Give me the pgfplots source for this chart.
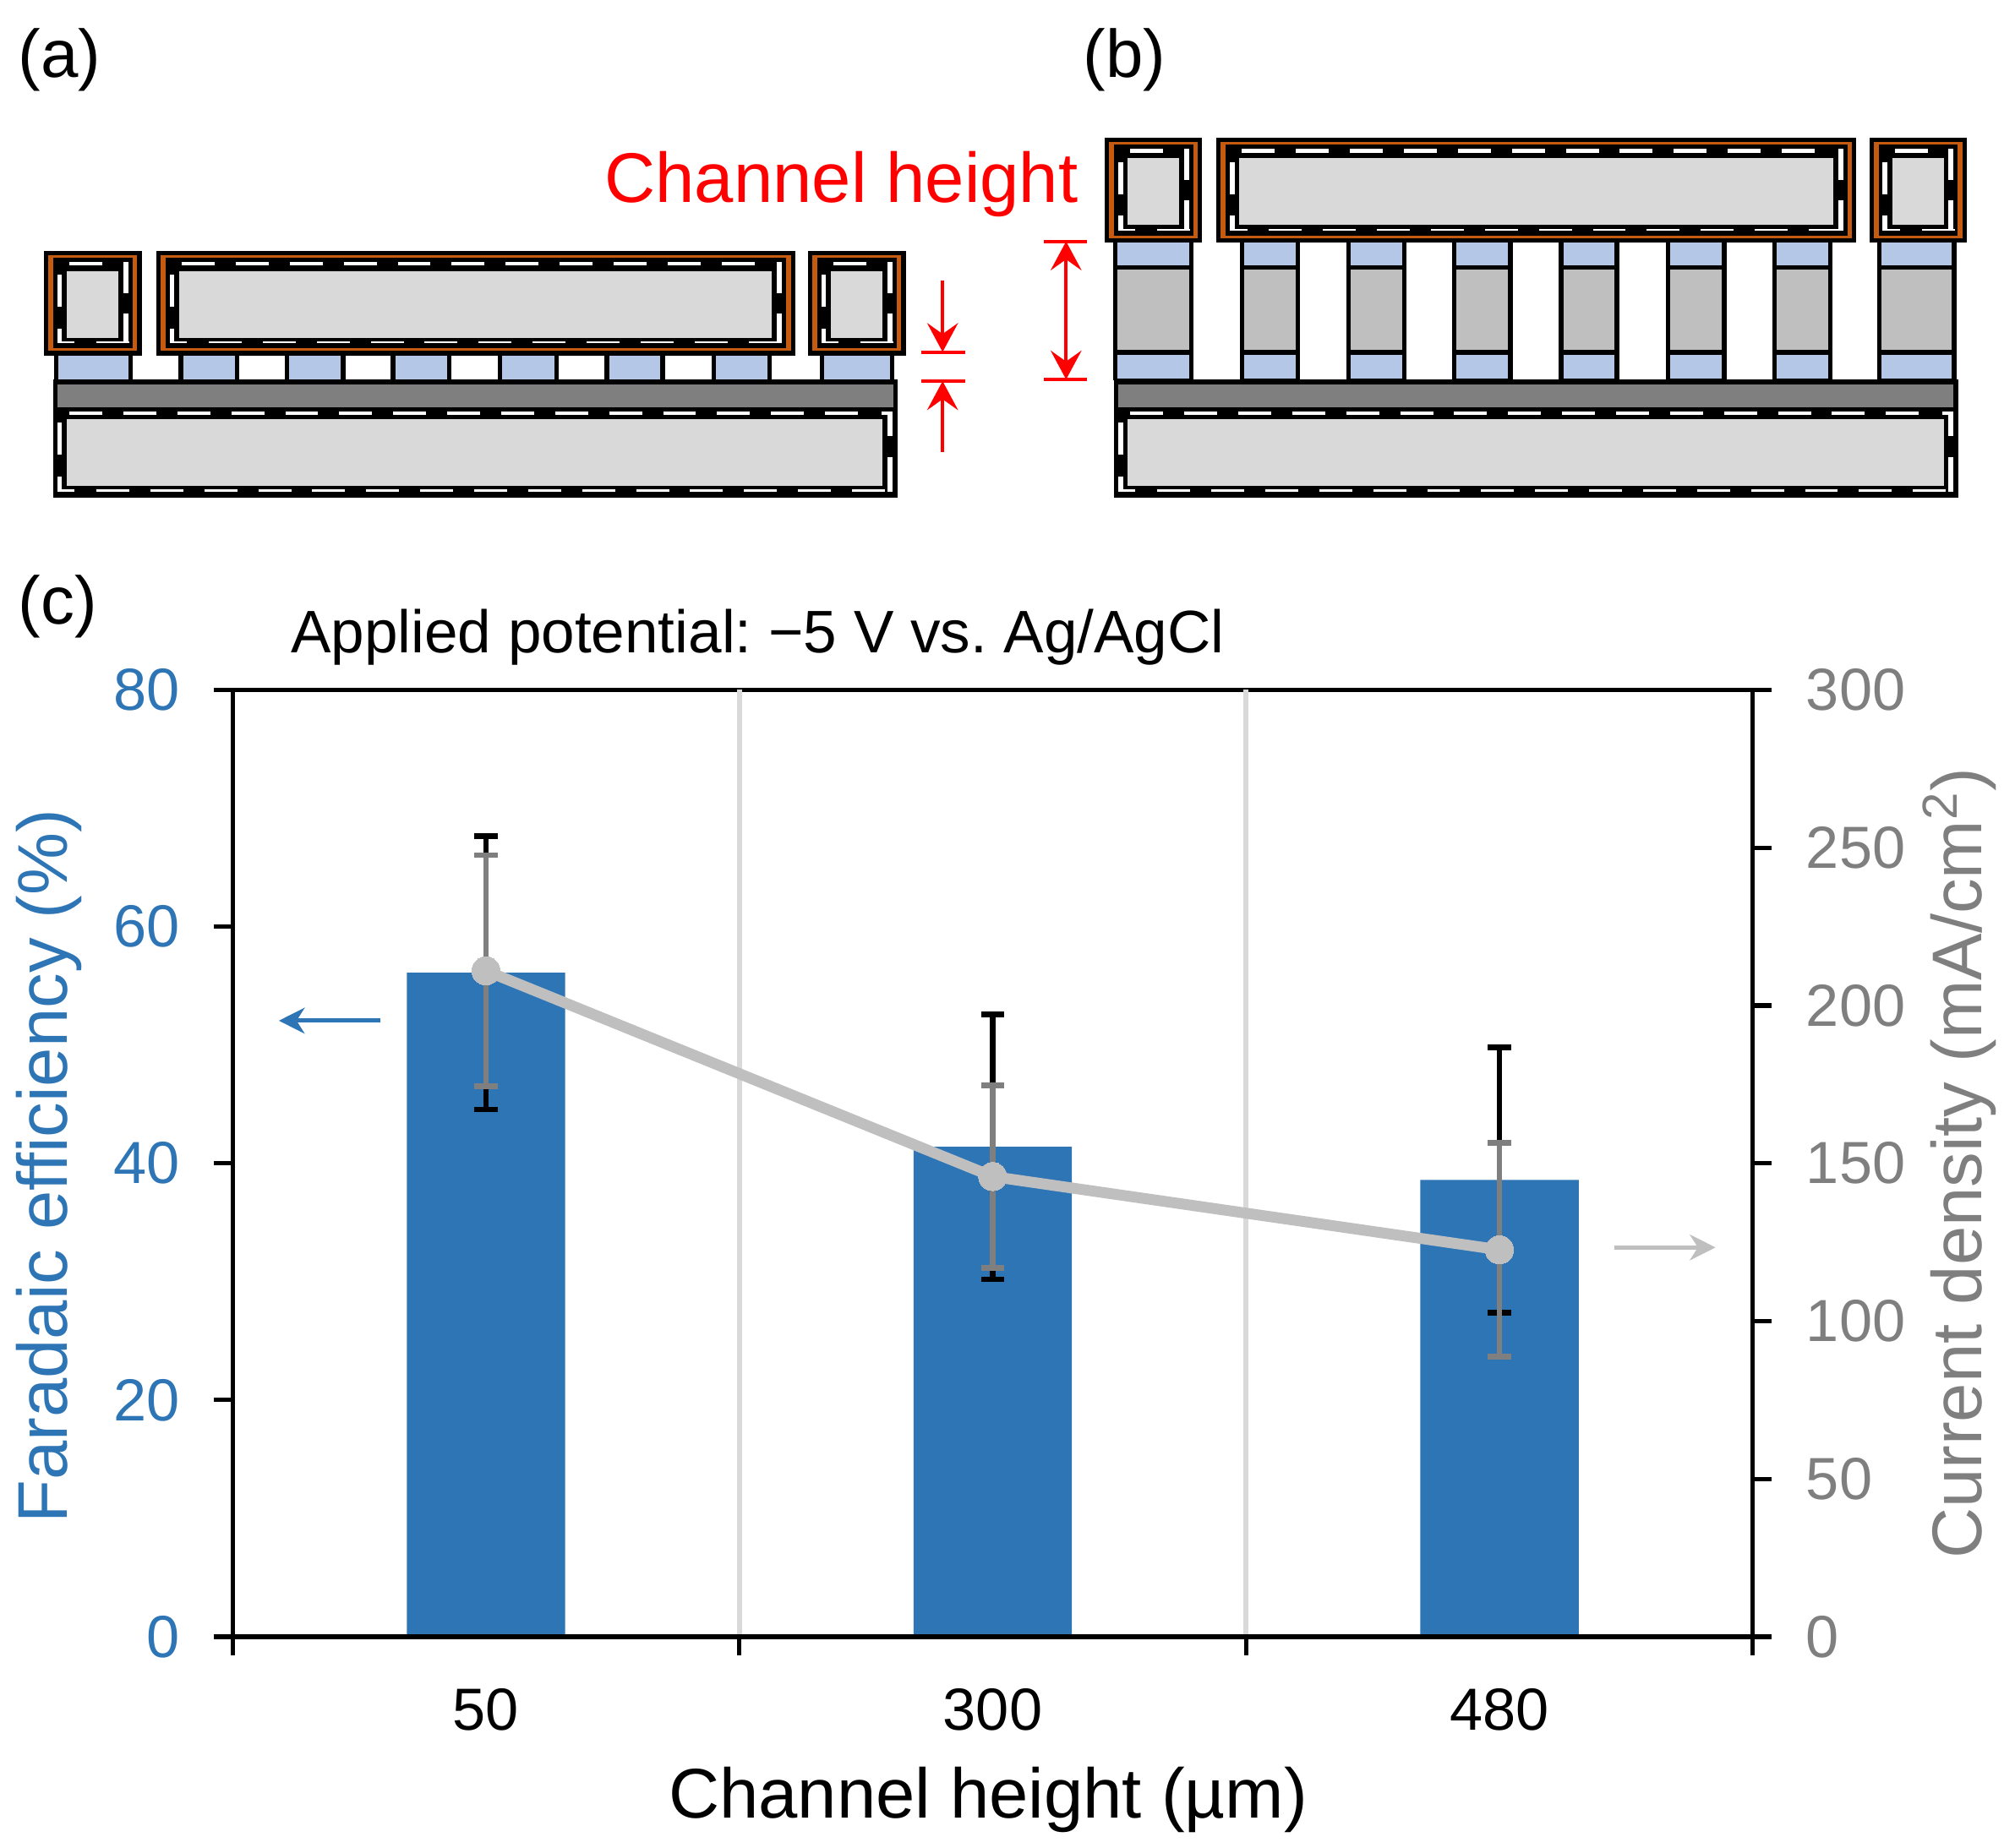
\documentclass[border=0pt]{standalone}
\usepackage{fontspec}
\setmainfont{Liberation Sans}
\usepackage{pgfplots}
\usepackage{pgfplotstable}
\pgfplotsset{compat=1.18}
\usetikzlibrary{arrows.meta}
\frenchspacing

\definecolor{barblue}{HTML}{2E75B6}
\definecolor{linegray}{HTML}{BFBFBF}
\definecolor{errgray}{HTML}{7F7F7F}
\definecolor{gridgray}{HTML}{D9D9D9}
\definecolor{copper}{HTML}{C55A11}
\definecolor{cellblue}{HTML}{B4C7E7}

\newcommand{\labelfont}{\fontsize{21.9}{26}\selectfont}
\newcommand{\panelfont}{\fontsize{21}{26}\selectfont}
\newcommand{\tickfont}{\fontsize{18.5}{22}\selectfont}

% white dashes and grey core of one plate: gl gt gr gb, top offset, right column ends
\newcommand{\core}[7]{%
  \pgfmathtruncatemacro\nt{floor((#3-#1-27.6)/42)}
  \foreach \k in {0,...,\nt}
    \fill[white] ({#1+2+42*\k},{#2-#5}) rectangle ++(25.6,2.8);
  \pgfmathtruncatemacro\nb{floor((#3-#1-23)/42)}
  \foreach \k in {0,...,\nb}
    \fill[white] ({#1+23+42*\k},{#4+3}) rectangle ++(25.6,1.5);
  \fill[white] ({#1-7.4},{#4+3}) rectangle ({#1+6},{#4+4.5});
  \fill[white] ({#1-7.4},{#2+3}) rectangle ({#1-3.8},{#2+28});
  \fill[white] ({#1-7.4},{#4-7}) rectangle ({#1-3.8},{#4+4.5});
  \fill[white] ({#3+3.8},{#2-#5}) rectangle ({#3+7.8},{#2+#6});
  \fill[white] ({#3+3.8},{#4-#7}) rectangle ({#3+7.8},{#4+4.5});
  \fill[gridgray] (#1,#2) rectangle (#3,#4);
}
% top plate with copper frame
\newcommand{\plate}[4]{%
  \fill[black] ({#1-17.8},{#2-15.6}) rectangle ({#3+18},{#4+14});
  \fill[copper] ({#1-14.5},{#2-12.6}) rectangle ({#3+14.6},{#4+10.4});
  \fill[black] ({#1-10.6},{#2-10.6}) rectangle ({#3+11},{#4+8.2});
  \core{#1}{#2}{#3}{#4}{7}{17}{19}
}
% bottom plate with dark layer; ol or outer x, gl gr core x
\newcommand{\base}[4]{%
  \fill[black] (#1,295.2) rectangle (#2,387.4);
  \fill[errgray] ({#1+3.3},299) rectangle ({#2-3.6},317.2);
  \core{#3}{326}{#4}{378}{5.7}{13.5}{22}
  \fill[white] ({#4-1},320.3) rectangle ({#4+7.8},323);
}
% short spacer of panel (a)
\newcommand{\post}[2]{%
  \fill[black] (#1,276) rectangle (#2,296);
  \fill[cellblue] ({#1+3.5},276.8) rectangle ({#2-3.5},295.4);
}
% tall pillar of panel (b)
\newcommand{\pillar}[2]{%
  \fill[black] (#1,188) rectangle (#2,296);
  \fill[cellblue] ({#1+3.5},188.6) rectangle ({#2-3.5},206.5);
  \fill[linegray] ({#1+3.5},209.8) rectangle ({#2-3.5},272.3);
  \fill[cellblue] ({#1+3.5},276) rectangle ({#2-3.5},295);
}

\pgfplotstableread{
x fe feerr cd cderr
0 56.1 11.55 211.0 36.6
1 41.4 11.2 145.8 28.9
2 38.6 11.2 122.6 33.8
}\chandata

\pgfplotsset{
  chanaxis/.style={
    scale only axis,
    at={(72.4pt,65.6pt)},
    anchor=south west,
    width=473.2pt,
    height=294.8pt,
    xmin=-0.5, xmax=2.5,
    ymin=0,
    tick align=outside,
    major tick length=5.8pt,
    tick style={line width=1.35pt,black},
    axis line style={line width=1.35pt,black},
    /pgf/number format/assume math mode=true,
    tick label style={font=\tickfont},
  },
}

\begin{document}
\begin{tikzpicture}
\path[use as bounding box] (0,0) rectangle (627.2pt,575.2pt);

\begin{axis}[
    chanaxis,
    ymax=80,
    ytick={0,20,40,60,80},
    ytick pos=left,
    xtick pos=bottom,
    xtick={0,1,2},
    xticklabels={50,300,480},
    x tick style={draw=none},
    extra x ticks={0.5,1.5},
    extra x tick labels={},
    extra x tick style={grid=major,major grid style={gridgray,line width=1.6pt}},
    xlabel={Channel height (µm)},
    ylabel={Faradaic efficiency (\%)},
    every axis x label/.style={at={(axis description cs:0.497,-0.1725)},anchor=center,font=\labelfont},
    every axis y label/.style={at={(axis description cs:-0.1205,0.497)},rotate=90,anchor=center,color=barblue,font=\labelfont},
    yticklabel style={color=barblue,inner sep=0pt,xshift=-10.5pt},
    xticklabel style={color=black,inner sep=0pt,yshift=-10.2pt},
  ]
  \addplot[ybar,bar width=0.3126,bar shift=0pt,fill=barblue,draw=none,
    error bars/.cd,y dir=both,y explicit,
    error bar style={draw=black,line width=1.75pt},
    error mark options={rotate=90,mark size=3.6pt,line width=1.75pt,black}]
    table[x=x,y=fe,y error=feerr] {\chandata};
\end{axis}

\begin{axis}[
    chanaxis,
    ymax=300,
    ytick={0,50,100,150,200,250,300},
    axis y line*=right,
    axis x line*=bottom,
    xtick={-0.5,0.5,1.5,2.5},
    xticklabels={},
    ylabel={Current density (mA/cm\textsuperscript{2})},
    every axis y label/.style={at={(axis description cs:1.136,0.5)},rotate=90,anchor=center,color=errgray,font=\labelfont},
    yticklabel style={color=errgray,inner sep=0pt,xshift=10.6pt},
  ]
  \addplot[linegray,line width=3.4pt,mark=*,mark size=4.4pt,mark options={fill=linegray,draw=linegray,line width=0pt},
    error bars/.cd,y dir=both,y explicit,
    error bar style={draw=errgray,line width=1.75pt},
    error mark options={rotate=90,mark size=3.6pt,line width=1.75pt,errgray}]
    table[x=x,y=cd,y error=cderr] {\chandata};
\end{axis}

\begin{scope}[yshift=575.2pt,x=0.4pt,y=-0.4pt]
  % panel (a)
  \post{42}{103.4}\post{139}{186.2}\post{221.7}{268.7}\post{304}{351.5}
  \post{387.4}{435}\post{470.4}{517.4}\post{553.6}{600.6}\post{637.7}{695.8}
  \plate{52}{211}{92.2}{262.8}
  \plate{139.5}{211}{600.8}{262.8}
  \plate{646.7}{211}{686.8}{262.8}
  \base{41.4}{698.6}{52}{686.8}
  % panel (b)
  \pillar{866}{929}\pillar{964.8}{1011.8}\pillar{1047.6}{1094.6}\pillar{1130}{1177}
  \pillar{1213}{1260}\pillar{1296.4}{1343.4}\pillar{1379}{1426}\pillar{1460.5}{1522.4}
  \plate{877.6}{123}{917.5}{175}
  \plate{964.5}{123}{1426.5}{175}
  \plate{1472.4}{123}{1512.5}{175}
  \base{867}{1523.7}{877.6}{1512.5}
  % red dimension marks
  \begin{scope}[red,line width=1.05pt,>={Stealth[length=9pt,width=9.6pt,inset=3.4pt]}]
    \draw (717,274) -- (751.3,274);
    \draw (717,296.7) -- (751.3,296.7);
    \draw[->] (733.5,218.4) -- (733.5,274);
    \draw[->] (733.5,352) -- (733.5,296.7);
    \draw (812.5,187.9) -- (846,187.9);
    \draw (812.5,295.4) -- (846,295.4);
    \draw[<->] (829.6,187.9) -- (829.6,295.4);
  \end{scope}
  % chart arrows
  \draw[barblue,line width=1.3pt,-{Stealth[length=8pt,width=8pt,inset=2.5pt]}] (296,794.5) -- (217,794.5);
  \draw[linegray,line width=1.3pt,-{Stealth[length=8pt,width=8pt,inset=2.5pt]}] (1256,971) -- (1335,971);
  % texts
  \node[anchor=base,inner sep=0pt,font=\panelfont] at (46.5,60) {(a)};
  \node[anchor=base,inner sep=0pt,font=\panelfont] at (875,60) {(b)};
  \node[anchor=base,inner sep=0pt,font=\panelfont] at (45,486) {(c)};
  \node[anchor=base east,inner sep=0pt,text=red,font=\labelfont] at (839.5,157.5) {Channel height};
  \node[anchor=base west,inner sep=0pt,font=\fontsize{18.7}{22}\selectfont] at (226,508) {Applied potential: −5 V vs. Ag/AgCl};
\end{scope}
\end{tikzpicture}
\end{document}
